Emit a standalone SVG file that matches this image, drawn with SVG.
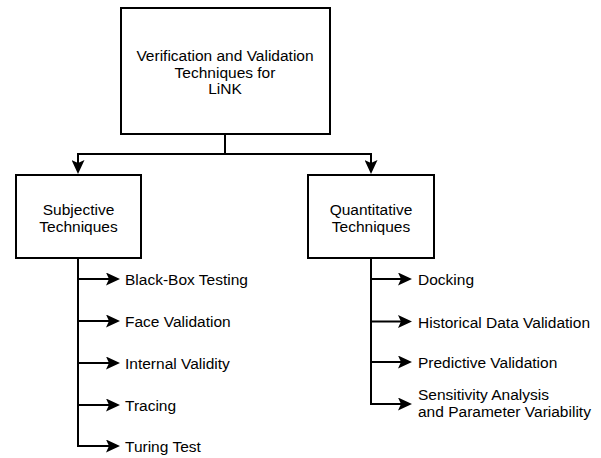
<svg xmlns="http://www.w3.org/2000/svg" width="601" height="458" viewBox="0 0 601 458">
  <style>
    .box { fill: #ffffff; stroke: #000000; stroke-width: 2; }
    .lbl { font-family: "Liberation Sans", Arial, sans-serif; font-size: 15.5px; fill: #000000; }
    .ctr { text-anchor: middle; }
    .conn { fill: none; stroke: #000000; stroke-width: 2; }
  </style>
  <defs>
    <marker id="arr" markerUnits="userSpaceOnUse" markerWidth="14" markerHeight="13" viewBox="0 0 14 13" refX="6" refY="6.5" orient="auto">
      <path d="M0,0 L14,6.5 L0,13 L3,6.5 Z" fill="#000000"/>
    </marker>
  </defs>
  <rect width="601" height="458" fill="#ffffff"/>

  <g id="connectors">
    <path class="conn" d="M225,134 V154"/>
    <path class="conn" d="M78,154 H371"/>
    <path class="conn" d="M78,153 V166" marker-end="url(#arr)"/>
    <path class="conn" d="M371,153 V166" marker-end="url(#arr)"/>
    <path class="conn" d="M78,258 V446"/>
    <path class="conn" d="M371,258 V404"/>
    <path class="conn" d="M77,279 H112" marker-end="url(#arr)"/>
    <path class="conn" d="M77,321 H112" marker-end="url(#arr)"/>
    <path class="conn" d="M77,363 H112" marker-end="url(#arr)"/>
    <path class="conn" d="M77,405 H112" marker-end="url(#arr)"/>
    <path class="conn" d="M77,446 H112" marker-end="url(#arr)"/>
    <path class="conn" d="M370,279 H404" marker-end="url(#arr)"/>
    <path class="conn" d="M370,321.5 H404" marker-end="url(#arr)"/>
    <path class="conn" d="M370,362 H404" marker-end="url(#arr)"/>
    <path class="conn" d="M370,404 H404" marker-end="url(#arr)"/>
  </g>

  <g id="root">
    <rect class="box" x="121" y="8" width="209" height="126"/>
    <text class="lbl ctr" x="225" y="61">Verification and Validation</text>
    <text class="lbl ctr" x="225" y="77.5">Techniques for</text>
    <text class="lbl ctr" x="225" y="94">LiNK</text>
  </g>

  <g id="subjective">
    <rect class="box" x="16" y="175" width="125" height="83"/>
    <text class="lbl ctr" x="78.5" y="214.5">Subjective</text>
    <text class="lbl ctr" x="78.5" y="231.5">Techniques</text>
  </g>

  <g id="quantitative">
    <rect class="box" x="308" y="175" width="126" height="83"/>
    <text class="lbl ctr" x="371" y="214.5">Quantitative</text>
    <text class="lbl ctr" x="371" y="231.5">Techniques</text>
  </g>

  <g id="black-box-testing"><text class="lbl" x="125" y="285">Black-Box Testing</text></g>
  <g id="face-validation"><text class="lbl" x="125" y="327">Face Validation</text></g>
  <g id="internal-validity"><text class="lbl" x="125" y="369">Internal Validity</text></g>
  <g id="tracing"><text class="lbl" x="125" y="411">Tracing</text></g>
  <g id="turing-test"><text class="lbl" x="125" y="452">Turing Test</text></g>

  <g id="docking"><text class="lbl" x="418" y="285">Docking</text></g>
  <g id="historical-data-validation"><text class="lbl" x="418" y="327.5">Historical Data Validation</text></g>
  <g id="predictive-validation"><text class="lbl" x="418" y="368">Predictive Validation</text></g>
  <g id="sensitivity-analysis">
    <text class="lbl" x="418" y="400">Sensitivity Analysis</text>
    <text class="lbl" x="418" y="417">and Parameter Variability</text>
  </g>
</svg>
